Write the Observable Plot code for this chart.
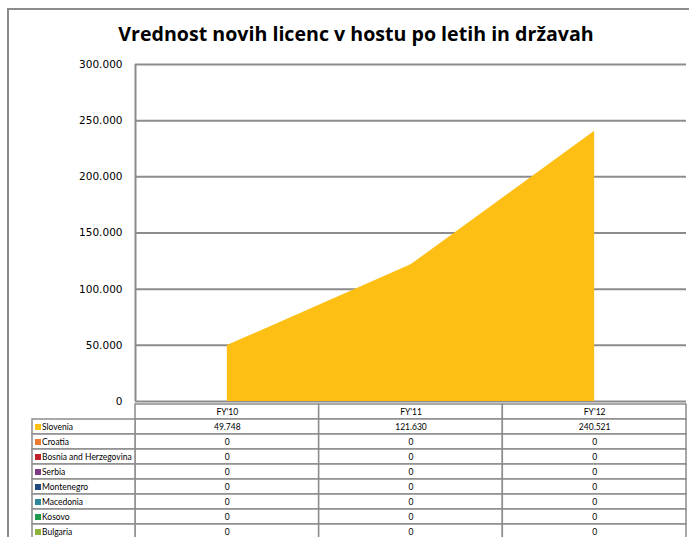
<!DOCTYPE html>
<html><head><meta charset="utf-8">
<script src="https://cdn.jsdelivr.net/npm/d3@7"></script>
<script src="https://cdn.jsdelivr.net/npm/@observablehq/plot@0.6"></script>
<style>
body{margin:0;background:#fff;}
#wrap{position:relative;width:689px;height:537px;overflow:hidden;background:#fff;}
#frame{position:absolute;left:7px;top:8px;width:800px;height:800px;border-left:2px solid #8c8c8c;border-top:2px solid #8c8c8c;}
#title{position:absolute;left:0;top:22px;width:712px;text-align:center;font:bold 19.6px "Open Sans",sans-serif;line-height:24px;color:#000;white-space:nowrap;}
#chart{position:absolute;left:0;top:0;}
#table{position:absolute;left:0;top:400px;}
</style></head><body>
<div id="wrap"><div id="frame"></div><div id="title"></div><div id="chart"></div><div id="table"></div></div>
<script>
const titleText = "Vrednost novih licenc v hostu po letih in državah";
const years = ["FY'10", "FY'11", "FY'12"];
const countries = ["Slovenia", "Croatia", "Bosnia and Herzegovina", "Serbia", "Montenegro", "Macedonia", "Kosovo", "Bulgaria"];
const countryColors = ["#FDBF13", "#EC7A30", "#C21F2C", "#7D3C81", "#1F4A7D", "#31879C", "#1E9B4B", "#8DB43E"];
const slovenia = [49748, 121630, 240521];
const croatia = [0, 0, 0];
const bosnia = [0, 0, 0];
const serbia = [0, 0, 0];
const montenegro = [0, 0, 0];
const macedonia = [0, 0, 0];
const kosovo = [0, 0, 0];
const bulgaria = [0, 0, 0];
const yTicks = [0, 50000, 100000, 150000, 200000, 250000, 300000];

const series = [slovenia, croatia, bosnia, serbia, montenegro, macedonia, kosovo, bulgaria];
const rows = countries.flatMap((c, k) => years.map((y, i) => ({country: c, year: y, i, value: series[k][i]})));
const fmt = d3.formatLocale({decimal: ",", thousands: ".", grouping: [3], currency: ["", "€"]}).format(",d");

document.getElementById("title").textContent = titleText;

const W = 689, ML = 135, MR = 3;
const grid = "#8c8c8c";

const chart = Plot.plot({
  width: W, height: 412, marginLeft: ML, marginRight: MR, marginTop: 64, marginBottom: 11,
  x: {domain: [-0.5, 2.5], axis: null},
  y: {domain: [0, 300000], ticks: yTicks, tickFormat: fmt, tickSize: 0, tickPadding: 13, label: null},
  color: {domain: countries, range: countryColors},
  style: {fontFamily: "DejaVu Sans", fontSize: "10.5px", color: "#000", background: "transparent"},
  marks: [
    Plot.ruleY(yTicks, {stroke: grid, strokeWidth: 2}),
    Plot.areaY(rows, {x: "i", y: "value", fill: "country", curve: "linear"}),
    Plot.ruleX([-0.5], {stroke: grid, strokeWidth: 2})
  ]
});
document.getElementById("chart").append(chart);

const labelCol = -0.5 - 103 / ((W - ML - MR) / 3);
const tableRows = ["header", ...countries];

const table = Plot.plot({
  width: W, height: 142, marginLeft: ML, marginRight: MR, marginTop: 1, marginBottom: 0.6,
  x: {domain: [-0.5, 2.5], axis: null},
  y: {domain: tableRows, axis: null, padding: 0},
  color: {domain: countries, range: countryColors},
  style: {fontFamily: "Lato", fontSize: "8.5px", color: "#000", background: "transparent"},
  marks: [
    Plot.barX(years, {x1: (d, i) => i - 0.5, x2: (d, i) => i + 0.5, y: () => "header", fill: "#fff", stroke: grid, strokeWidth: 1.5}),
    Plot.barX(rows, {x1: d => d.i - 0.5, x2: d => d.i + 0.5, y: "country", fill: "#fff", stroke: grid, strokeWidth: 1.5}),
    Plot.barX(countries, {x1: () => labelCol, x2: () => -0.5, y: d => d, fill: "#fff", stroke: grid, strokeWidth: 1.5}),
    Plot.dot(countries, {x: () => labelCol, y: d => d, symbol: "square", r: 3.4, fill: d => d, dx: 5.5}),
    Plot.text(countries, {x: () => labelCol, y: d => d, text: d => d, textAnchor: "start", dx: 9.5, fill: "#000"}),
    Plot.text(years, {x: (d, i) => i, y: () => "header", text: d => d, fill: "#000"}),
    Plot.text(rows, {x: "i", y: "country", text: d => fmt(d.value), fill: "#000"})
  ]
});
document.getElementById("table").append(table);
</script>
</body></html>
